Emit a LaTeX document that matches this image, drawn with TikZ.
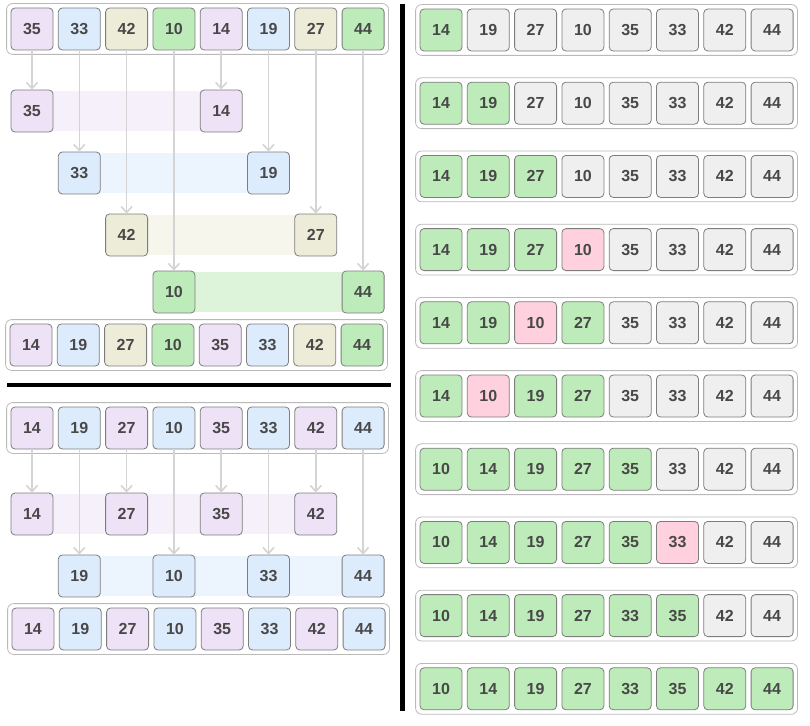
\documentclass[tikz,border=0pt]{standalone}
\usepackage{fontspec}
\setmainfont{Liberation Sans}
\usetikzlibrary{arrows.meta,fit,backgrounds}
\definecolor{cp}{RGB}{238,226,247}
\definecolor{cb}{RGB}{221,236,253}
\definecolor{co}{RGB}{237,236,217}
\definecolor{cg}{RGB}{190,235,186}
\definecolor{cw}{RGB}{239,239,239}
\definecolor{ck}{RGB}{255,208,221}
\definecolor{lp}{RGB}{246,240,251}
\definecolor{lb}{RGB}{236,245,254}
\definecolor{lo}{RGB}{246,246,236}
\definecolor{lg}{RGB}{221,244,218}
\definecolor{cellline}{RGB}{125,125,125}
\definecolor{boxline}{RGB}{185,185,185}
\definecolor{celltext}{RGB}{72,72,72}
\definecolor{flowline}{RGB}{212,212,212}
\tikzset{
  cell/.style={
    draw=cellline,
    line width=0.8pt,
    rounded corners=4pt,
    minimum size=42pt,
    inner sep=0pt,
    text=celltext,
    font=\fontsize{16}{16}\selectfont\bfseries
  },
  box/.style={
    draw=boxline,
    line width=0.8pt,
    rounded corners=6pt,
    inner sep=4pt
  },
  band/.style={
    draw=none
  },
  flow/.style={
    draw=flowline,
    line width=1.6pt,
    -{Straight Barb[length=6pt,width=11pt]}
  },
  sep/.style={
    line width=4.5pt
  }
}
\begin{document}
\begin{tikzpicture}[x=1pt,y=-1pt]
\useasboundingbox (0,0) rectangle (810,725);
% gap 4
\foreach \v/\c [count=\i from 0] in {35/p,33/b,42/o,10/g,14/p,19/b,27/o,44/g}
  \node[cell, fill=c\c] (a-\i) at (32+47.3*\i,29) {\v};
\node[box, fit=(a-0)(a-7)] (a) {};
\foreach \i/\v/\c/\y in {0/35/p/111,1/33/b/173,2/42/o/235,3/10/g/292,4/14/p/111,5/19/b/173,6/27/o/235,7/44/g/292}{
  \node[cell, fill=c\c] (ag-\i) at (32+47.3*\i,\y) {\v};
  \draw[flow] (a-\i) -- (ag-\i);}
\begin{scope}[on background layer]
\foreach \i/\c in {0/p,1/b,2/o,3/g}{
  \pgfmathtruncatemacro\k{\i+4}
  \fill[band, fill=l\c] ([yshift=-1pt]ag-\i.north) rectangle ([yshift=1pt]ag-\k.south);}
\end{scope}
\foreach \v/\c [count=\i from 0] in {14/p,19/b,27/o,10/g,35/p,33/b,42/o,44/g}
  \node[cell, fill=c\c] (ar-\i) at (31+47.3*\i,345) {\v};
\node[box, fit=(ar-0)(ar-7)] (ar) {};
\draw[sep] (7,385) -- (391,385);
% gap 2
\foreach \v/\c [count=\i from 0] in {14/p,19/b,27/p,10/b,35/p,33/b,42/p,44/b}
  \node[cell, fill=c\c] (b-\i) at (32+47.3*\i,428) {\v};
\node[box, fit=(b-0)(b-7)] (b) {};
\foreach \i/\v/\c/\y in {0/14/p/514,1/19/b/576,2/27/p/514,3/10/b/576,4/35/p/514,5/33/b/576,6/42/p/514,7/44/b/576}{
  \node[cell, fill=c\c] (bg-\i) at (32+47.3*\i,\y) {\v};
  \draw[flow] (b-\i) -- (bg-\i);}
\begin{scope}[on background layer]
\foreach \i/\k/\c in {0/6/p,1/7/b}
  \fill[band, fill=l\c] ([yshift=-1pt]bg-\i.north) rectangle ([yshift=1pt]bg-\k.south);
\end{scope}
\foreach \v/\c [count=\i from 0] in {14/p,19/b,27/p,10/b,35/p,33/b,42/p,44/b}
  \node[cell, fill=c\c] (br-\i) at (33+47.3*\i,629) {\v};
\node[box, fit=(br-0)(br-7)] (br) {};
\draw[sep] (402.5,4) -- (402.5,711);
% insertion passes
\foreach \vals [count=\j from 0] in {
  {14/g,19/w,27/w,10/w,35/w,33/w,42/w,44/w},
  {14/g,19/g,27/w,10/w,35/w,33/w,42/w,44/w},
  {14/g,19/g,27/g,10/w,35/w,33/w,42/w,44/w},
  {14/g,19/g,27/g,10/k,35/w,33/w,42/w,44/w},
  {14/g,19/g,10/k,27/g,35/w,33/w,42/w,44/w},
  {14/g,10/k,19/g,27/g,35/w,33/w,42/w,44/w},
  {10/g,14/g,19/g,27/g,35/g,33/w,42/w,44/w},
  {10/g,14/g,19/g,27/g,35/g,33/k,42/w,44/w},
  {10/g,14/g,19/g,27/g,33/g,35/g,42/w,44/w},
  {10/g,14/g,19/g,27/g,33/g,35/g,42/g,44/g}}{
  \foreach \v/\c [count=\i from 0] in \vals
    \node[cell, fill=c\c] (r\j-\i) at (441+47.3*\i,30+73.2*\j) {\v};
  \node[box, fit=(r\j-0)(r\j-7)] (r\j) {};}
\end{tikzpicture}
\end{document}
